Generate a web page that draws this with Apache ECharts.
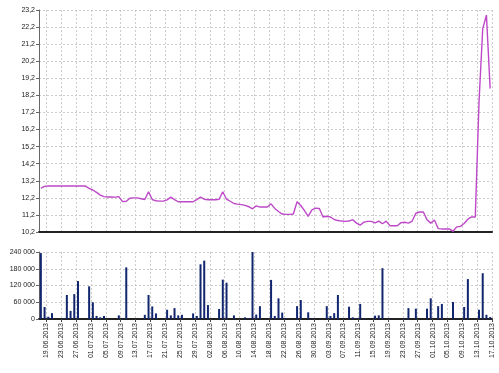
<!DOCTYPE html>
<html><head><meta charset="utf-8">
<script src="https://cdn.jsdelivr.net/npm/echarts@6/dist/echarts.min.js"></script>
<style>html,body{margin:0;padding:0;background:#fff}#c{width:499px;height:373px}</style>
</head><body><div id="c"></div>
<script>
// Axis dates (17.06.2013 .. 17.10.2013)
const axisDates = [
 "17.06.2013","18.06.2013","19.06.2013","20.06.2013","21.06.2013","22.06.2013","23.06.2013","24.06.2013","25.06.2013","26.06.2013","27.06.2013","28.06.2013","29.06.2013","30.06.2013",
 "01.07.2013","02.07.2013","03.07.2013","04.07.2013","05.07.2013","06.07.2013","07.07.2013","08.07.2013","09.07.2013","10.07.2013","11.07.2013","12.07.2013","13.07.2013","14.07.2013","15.07.2013","16.07.2013","17.07.2013","18.07.2013","19.07.2013","20.07.2013","21.07.2013","22.07.2013","23.07.2013","24.07.2013","25.07.2013","26.07.2013","27.07.2013","28.07.2013","29.07.2013","30.07.2013","31.07.2013",
 "01.08.2013","02.08.2013","03.08.2013","04.08.2013","05.08.2013","06.08.2013","07.08.2013","08.08.2013","09.08.2013","10.08.2013","11.08.2013","12.08.2013","13.08.2013","14.08.2013","15.08.2013","16.08.2013","17.08.2013","18.08.2013","19.08.2013","20.08.2013","21.08.2013","22.08.2013","23.08.2013","24.08.2013","25.08.2013","26.08.2013","27.08.2013","28.08.2013","29.08.2013","30.08.2013","31.08.2013",
 "01.09.2013","02.09.2013","03.09.2013","04.09.2013","05.09.2013","06.09.2013","07.09.2013","08.09.2013","09.09.2013","10.09.2013","11.09.2013","12.09.2013","13.09.2013","14.09.2013","15.09.2013","16.09.2013","17.09.2013","18.09.2013","19.09.2013","20.09.2013","21.09.2013","22.09.2013","23.09.2013","24.09.2013","25.09.2013","26.09.2013","27.09.2013","28.09.2013","29.09.2013","30.09.2013",
 "01.10.2013","02.10.2013","03.10.2013","04.10.2013","05.10.2013","06.10.2013","07.10.2013","08.10.2013","09.10.2013","10.10.2013","11.10.2013","12.10.2013","13.10.2013","14.10.2013","15.10.2013","16.10.2013","17.10.2013"
];
// Trading days (data points, one per day 17.06 .. 16.10)
const dataDays = axisDates.slice(0, 122);

const price = [
 12.77,12.87,12.89,12.89,12.89,12.89,12.89,12.89,12.89,12.89,
 12.89,12.89,12.89,12.76,12.66,12.52,12.36,12.27,12.25,12.25,
 12.24,12.27,11.98,12.00,12.18,12.20,12.20,12.15,12.10,12.56,
 12.10,12.03,12.01,12.01,12.08,12.24,12.10,11.97,11.97,11.97,
 11.97,11.97,12.10,12.24,12.12,12.09,12.09,12.09,12.12,12.56,
 12.12,12.00,11.87,11.83,11.80,11.76,11.68,11.56,11.73,11.66,
 11.66,11.66,11.85,11.58,11.40,11.25,11.23,11.23,11.25,11.97,
 11.75,11.45,11.12,11.50,11.60,11.58,11.08,11.12,11.08,10.93,
 10.87,10.84,10.82,10.84,10.92,10.72,10.60,10.78,10.82,10.82,
 10.73,10.84,10.68,10.84,10.57,10.57,10.57,10.75,10.77,10.72,
 10.84,11.30,11.37,11.37,10.92,10.72,10.90,10.40,10.38,10.38,
 10.38,10.24,10.50,10.53,10.70,10.95,11.08,11.08,17.80,22.10,
 22.90,18.60
];

const volume = [
 236000,43000,8000,21000,0,0,3000,86000,29000,89000,
 136000,0,0,117000,60000,11000,6000,11000,0,0,
 0,13000,3000,185000,0,0,0,0,15000,86000,
 45000,20000,0,0,33000,13000,39000,13000,15000,0,
 0,20000,11000,196000,209000,50000,0,0,36000,141000,
 130000,0,13000,0,0,6000,3000,240000,16000,46000,
 0,0,140000,11000,74000,23000,3000,0,0,46000,
 68000,0,24000,3000,0,0,0,46000,11000,21000,
 86000,0,0,44000,6000,3000,54000,3000,0,0,
 12000,13000,182000,0,2000,0,0,0,3000,39000,
 0,37000,0,0,37000,74000,0,46000,54000,0,
 0,61000,3000,0,43000,143000,0,0,33000,164000,
 15000,7000
];

const priceTicks = {min: 10.2, max: 23.2, step: 1};
const volumeTicks = {min: 0, max: 240000, step: 60000};

const FONT = 'Liberation Sans';
const labelStyle = {fontFamily: FONT, fontSize: 7, color: '#222'};
const every4 = (i) => (i - 2) % 4 === 0;
const grid = {color: '#cdcdcd', type: [2, 2], width: 1};

const chart = echarts.init(document.getElementById('c'), null, {renderer: 'canvas'});
chart.setOption({
  animation: false,
  backgroundColor: '#fff',
  grid: [
    {left: 39, right: 7, top: 10, height: 222},
    {left: 39, right: 7, top: 252, height: 67}
  ],
  xAxis: [
    // visible date axes
    {type: 'category', gridIndex: 0, data: axisDates, boundaryGap: false,
     axisLine: {lineStyle: {color: '#222', width: 2}},
     axisTick: {show: false}, axisLabel: {show: false},
     splitLine: {show: true, interval: every4, lineStyle: grid}},
    {type: 'category', gridIndex: 1, data: axisDates, boundaryGap: false,
     axisLine: {lineStyle: {color: '#222', width: 2}},
     axisTick: {show: true, interval: every4, length: 3, lineStyle: {color: '#444'}},
     axisLabel: Object.assign({interval: every4, rotate: 90, margin: 4}, labelStyle),
     splitLine: {show: true, interval: every4, lineStyle: grid}},
    // data axes (one band per day)
    {type: 'category', gridIndex: 0, data: dataDays, boundaryGap: true, show: false},
    {type: 'category', gridIndex: 1, data: dataDays, boundaryGap: true, show: false}
  ],
  yAxis: [
    {type: 'value', gridIndex: 0, min: priceTicks.min, max: priceTicks.max, interval: priceTicks.step,
     axisLine: {show: true, lineStyle: {color: '#666'}},
     axisTick: {show: true, length: 3, lineStyle: {color: '#666'}},
     axisLabel: Object.assign({margin: 4, formatter: v => v.toFixed(1).replace('.', ',')}, labelStyle),
     splitLine: {show: true, lineStyle: grid}},
    {type: 'value', gridIndex: 1, min: volumeTicks.min, max: volumeTicks.max, interval: volumeTicks.step,
     axisLine: {show: true, lineStyle: {color: '#666'}},
     axisTick: {show: true, length: 3, lineStyle: {color: '#666'}},
     axisLabel: Object.assign({margin: 4, formatter: v => String(Math.round(v)).replace(/\B(?=(\d{3})+(?!\d))/g, ' ')}, labelStyle),
     splitLine: {show: true, lineStyle: grid}}
  ],
  series: [
    {type: 'line', xAxisIndex: 2, yAxisIndex: 0, data: price, symbol: 'none',
     lineStyle: {color: '#bd48c8', width: 1.4}},
    {type: 'bar', xAxisIndex: 3, yAxisIndex: 1, data: volume, barWidth: 2,
     itemStyle: {color: '#12266f'}}
  ]
});
</script></body></html>
